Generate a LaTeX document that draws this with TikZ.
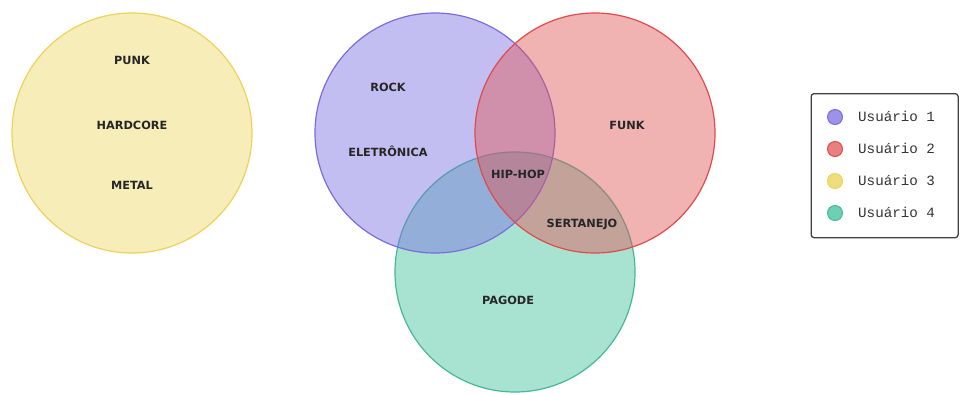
\documentclass[tikz,border=0pt]{standalone}
\usepackage{fontspec}
\setmainfont{DejaVu Sans}
\newfontfamily\legfont{Liberation Mono}
\definecolor{cpur}{HTML}{7B6FE0}
\definecolor{cred}{HTML}{E05555}
\definecolor{cyel}{HTML}{EBD250}
\definecolor{cteal}{HTML}{3FBF9A}
\definecolor{spur}{HTML}{7A6CDC}
\definecolor{sred}{HTML}{E04A4A}
\definecolor{syel}{HTML}{EDD25A}
\definecolor{steal}{HTML}{45B995}
\tikzset{
  setc/.style={circle, minimum size=240pt, inner sep=0pt, line width=1.2pt, fill opacity=0.45},
  lab/.style={font=\fontsize{11.3}{13}\selectfont\bfseries, text=black!85},
  legdot/.style={circle, minimum size=15pt, inner sep=0pt, line width=1pt, fill opacity=0.75},
  legtxt/.style={font=\legfont\fontsize{14.2}{16}\selectfont, text=black!80, anchor=west, inner sep=0pt}
}
\begin{document}
\begin{tikzpicture}[x=1pt,y=-1pt]
\useasboundingbox (0,0) rectangle (960,394);
% circles
\node[setc, draw=syel, fill=cyel, fill opacity=0.4] (u3) at (132,133) {};
\node[setc, draw=steal, fill=cteal] (u4) at (515,272) {};
\node[setc, draw=spur, fill=cpur] (u1) at (435,133) {};
\node[setc, draw=sred, fill=cred] (u2) at (595,133) {};
% labels
\node[lab] (punk) at (132,60) {PUNK};
\node[lab] (hard) at (132,125) {HARDCORE};
\node[lab] (metal) at (132,185) {METAL};
\node[lab] (rock) at (388,87) {ROCK};
\node[lab] (elet) at (388,151) {ELETRÔNICA};
\node[lab] (funk) at (627,125) {FUNK};
\node[lab] (hip) at (518,174) {HIP-HOP};
\node[lab] (sert) at (582,224) {SERTANEJO};
\node[lab] (pag) at (508,300) {PAGODE};
% legend
\node[draw=black!75, line width=1.3pt, rounded corners=3pt, minimum width=147pt, minimum height=144pt, anchor=north west, inner sep=0pt] (leg) at (810.5,93) {};
\node[legdot, draw=spur, fill=cpur] (d1) at (835,117) {};
\node[legdot, draw=sred, fill=cred] (d2) at (835,149) {};
\node[legdot, draw=syel, fill=cyel] (d3) at (835,181) {};
\node[legdot, draw=steal, fill=cteal] (d4) at (835,213) {};
\node[legtxt] (t1) at (858,116.5) {Usuário 1};
\node[legtxt] (t2) at (858,148.5) {Usuário 2};
\node[legtxt] (t3) at (858,180.5) {Usuário 3};
\node[legtxt] (t4) at (858,212.5) {Usuário 4};
\end{tikzpicture}
\end{document}
